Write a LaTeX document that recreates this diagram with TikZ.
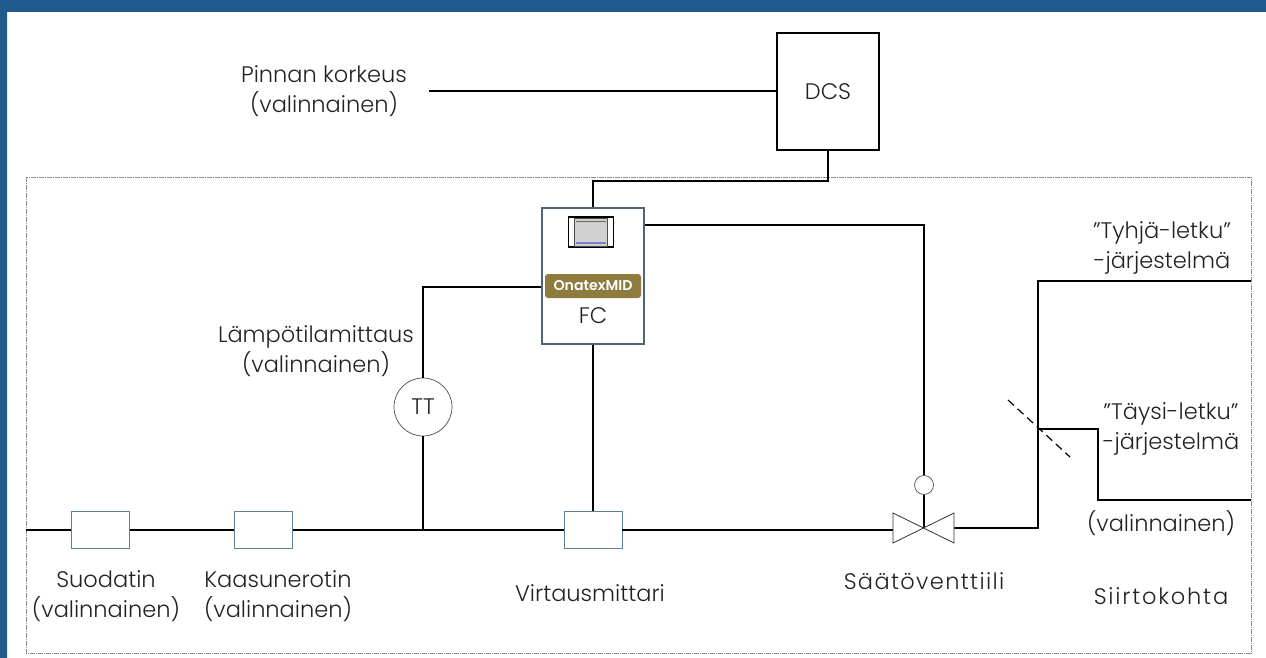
\documentclass[tikz,border=0pt]{standalone}
\usepackage{fontspec}
\setmainfont{Poppins}[UprightFont=* Light, BoldFont=* SemiBold]
\usetikzlibrary{positioning}
\definecolor{framecol}{HTML}{215A8C}
\definecolor{edgecol}{HTML}{5F7F95}
\definecolor{badgecol}{HTML}{8E7B3E}
\definecolor{textcol}{HTML}{222222}
\begin{document}
\begin{tikzpicture}[x=1pt, y=-1pt, line width=1.6pt, every node/.style={font=\fontsize{22.5}{29.5}\selectfont, text=textcol},
             label/.style = {align=center, inner sep=0pt},
             wide/.style = {label, font=\fontsize{22.5}{29.5}\selectfont\addfontfeature{LetterSpace=#1}},
             block/.style = {draw, line width=1.3pt, rectangle, minimum height=117pt, minimum width=102pt},
            device/.style = {draw=edgecol, line width=0.8pt, fill=white, rectangle, minimum height=37pt, minimum width=58pt},
             round/.style = {draw=black!70, line width=0.7pt, fill=white, circle, inner sep=0pt},
]
\useasboundingbox (0,0) rectangle (1266,658);
\fill[framecol] (0,0) rectangle (1266,12) (0,0) rectangle (7,658);
\draw[black!45, line width=0.8pt, dash pattern=on 5pt off 1pt on 1pt off 1pt] (26,177) rectangle (1251,653);
\node [block]                                  (dcs)   at (828,91.5)  {DCS};
\node [block, draw=edgecol!80!black, minimum height=136pt] (fc) at (593,276) {};
\node [inner sep=0pt]                          (fctxt) at (593,316)   {FC};
\node [fill=badgecol, rounded corners=3pt, minimum width=96pt, minimum height=24pt, inner sep=0pt,
       font=\fontsize{14.2}{16}\selectfont\bfseries, text=white] (badge) at (593,286) {OnatexMID};
\node [draw=black, line width=1.2pt, fill=white, minimum width=45pt, minimum height=30pt, inner sep=0pt] (panel) at (591,232) {};
\node [draw=black!70, line width=0.6pt, fill=black!18, minimum width=33pt, minimum height=28pt, inner sep=0pt] (screen) at (591,232) {};
\fill[black!60] ([shift={(2pt,-3pt)}]screen.north west) rectangle ([shift={(-2pt,-4pt)}]screen.north east);
\fill[black!45!blue!50] ([shift={(2pt,4pt)}]screen.south west) rectangle ([shift={(-2pt,2pt)}]screen.south east);
\node [device] (filter)  at (100.5,530) {};
\node [device] (sep)     at (263.5,530) {};
\node [device] (flow)    at (593,530)   {};
\node [round, minimum size=58pt] (tt) at (423,407) {TT};
\node [round, minimum size=19pt] (act) at (924,485) {};
\coordinate (lvl)  at (429,91);
\coordinate (in)   at (26,530);
\coordinate (vl)   at (893,528);
\coordinate (vm)   at (924,528);
\coordinate (vr)   at (954,528);
\coordinate (j1)   at (423,530);
\coordinate (tee)  at (1038,429);
\coordinate (out1) at (1251,281);
\coordinate (out2) at (1251,500);
\coordinate (dl1)  at (1008,400);
\coordinate (dl2)  at (1070,457);
% text labels
\node [label] (lvltxt)  at (324,91)   {Pinnan korkeus\\(valinnainen)};
\node [label] (tttxt)   at (316,351)  {Lämpötilamittaus\\(valinnainen)};
\node [label] (filtxt)  at (106,596)  {Suodatin\\(valinnainen)};
\node [label] (septxt)  at (278,596)  {Kaasunerotin\\(valinnainen)};
\node [label] (flowtxt) at (590,593)  {Virtausmittari};
\node [wide=6] (vlvtxt)  at (924,581)  {Säätöventtiili};
\node [wide=8] (xfer)    at (1161,596) {Siirtokohta};
\node [label] (empty)   at (1162,248) {”Tyhjä-letku”\\-järjestelmä};
\node [label] (full)    at (1171,429) {”Täysi-letku”\\-järjestelmä};
\node [label] (opt)     at (1161,523) {(valinnainen)};
% paths
\draw (lvl) -- (lvl -| dcs.west);
\draw (dcs.south) |- (593,181) -- (fc.north);
\draw (fc.east |- 0,225) -| (act.north);
\draw (fc.west |- 0,287) -| (tt.north);
\draw (tt.south) -- (j1);
\draw (fc.south) -- (flow.north);
\draw (act.south) -- (vm);
\draw (in) -- (filter.west);
\draw (filter.east) -- (sep.west);
\draw (sep.east) -- (flow.west);
\draw (flow.east) -- (vl |- flow.east);
\draw (vr) -| (tee) |- (out1);
\draw (tee) -| (1098,500) -- (out2);
\draw[line width=1.2pt, dash pattern=on 8pt off 5pt] (dl1) -- (dl2);
\draw[line width=0.8pt, black!80, fill=white] (vl |- 0,513) -- (vr |- 0,543) -- (vr |- 0,513) -- (vl |- 0,543) -- cycle;
\end{tikzpicture}
\end{document}
